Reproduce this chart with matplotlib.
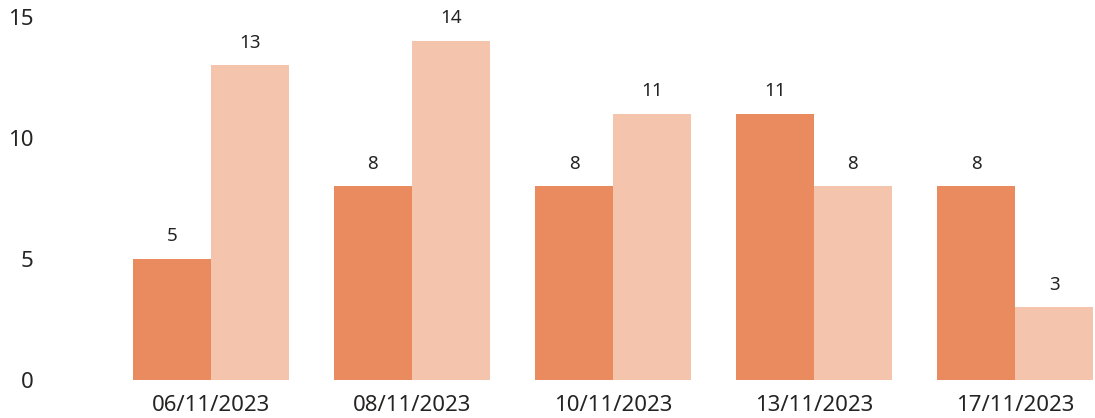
import matplotlib
matplotlib.use("Agg")
import matplotlib.pyplot as plt
import numpy as np

categories = ["06/11/2023", "08/11/2023", "10/11/2023", "13/11/2023", "17/11/2023"]
series_a = [5, 8, 8, 11, 8]
series_b = [13, 14, 11, 8, 3]
y_ticks = [0, 5, 10, 15]

color_a = "#E98A5F"
color_b = "#F4C4AD"

plt.rcParams['font.family'] = ['Noto Sans', 'DejaVu Sans']

fig = plt.figure(figsize=(10.95, 4.18), dpi=100)
W, H = 1095, 418
ax = fig.add_axes([110 / W, (H - 380) / H, (1095 - 110) / W, (380 - 17) / H])

x = np.arange(len(categories))
bw = 78 / 201
bars_a = ax.bar(x - bw / 2, series_a, width=bw, color=color_a, linewidth=0)
bars_b = ax.bar(x + bw / 2, series_b, width=bw, color=color_b, linewidth=0)

for bars, vals in ((bars_a, series_a), (bars_b, series_b)):
    for b, v in zip(bars, vals):
        ax.annotate(str(v), (b.get_x() + b.get_width() / 2, v),
                    xytext=(0, 10), textcoords="offset points",
                    ha="center", va="bottom", fontsize=13.5, color="#252423")

ax.set_xlim((110 - 211) / 201, (1095 - 211) / 201)
ax.set_ylim(0, 15)
ax.set_xticks(x)
ax.set_xticklabels(categories)
ax.set_yticks(y_ticks)
ax.tick_params(axis='x', length=0, pad=11, labelsize=16, labelcolor="#252423")
ax.tick_params(axis='y', length=0, pad=55, labelsize=16, labelcolor="#252423")
for s in ax.spines.values():
    s.set_visible(False)

fig.savefig("out.png", dpi=100)
